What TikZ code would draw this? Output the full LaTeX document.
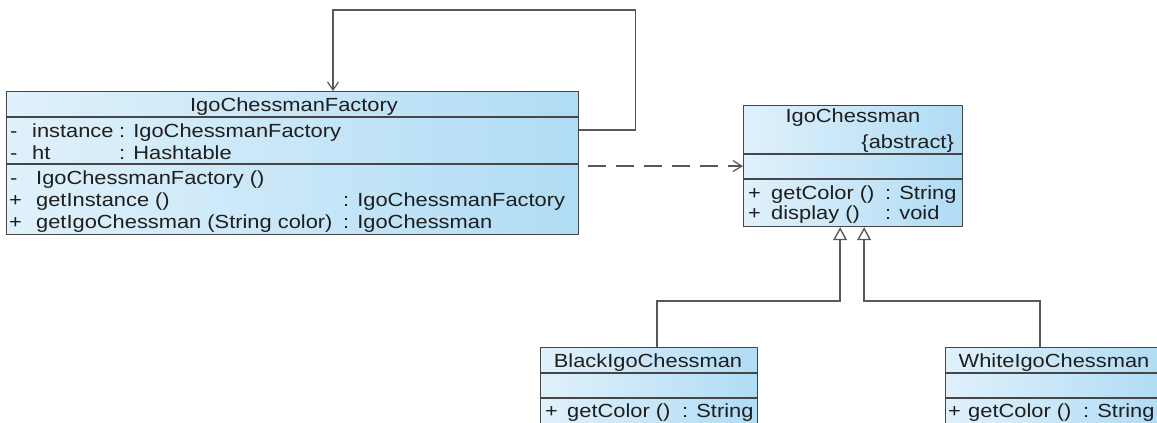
\documentclass[tikz,border=0pt]{standalone}
\usepackage{fontspec}
\setmainfont{Liberation Sans}[FakeStretch=1.15]
\usepackage{tikz}
\usetikzlibrary{calc,positioning,arrows.meta,shapes}

\definecolor{boxlite}{RGB}{224,241,251}
\definecolor{boxblue}{RGB}{176,220,245}
\definecolor{edge}{RGB}{70,70,70}
\definecolor{txt}{RGB}{30,30,30}

\begin{document}
\begin{tikzpicture}[x=1pt,y=-1pt,
    cls/.style={draw=edge,line width=1.2pt,rectangle,inner sep=0pt,anchor=north west,left color=boxlite,right color=boxblue},
    sep/.style={draw=edge,line width=1.2pt},
    txt/.style={inner sep=0pt,anchor=base west,text=txt,font=\fontsize{19}{22}\selectfont},
    ttl/.style={txt,anchor=base},
    link/.style={draw=edge!90,line width=1.4pt},
    dep/.style={link,dash pattern=on 18pt off 10pt,-{Straight Barb[length=9pt,width=11pt,line width=1.2pt]}},
    gen/.style={link,-{Triangle[open,length=13pt,width=14pt,fill=white]}}]
  \clip (0,0) rectangle (1157,423);

  % class boxes
  \node[cls,minimum width=572pt,minimum height=143pt] (fac) at (6,91) {};
  \node[cls,minimum width=219pt,minimum height=121pt] (chess) at (743,105) {};
  \node[cls,minimum width=217pt,minimum height=90pt] (black) at (540,347) {};
  \node[cls,minimum width=217pt,minimum height=90pt] (white) at (945,347) {};

  % compartments
  \draw[sep] ([yshift=-26pt]fac.north west) -- ([yshift=-26pt]fac.north east);
  \draw[sep] ([yshift=-73pt]fac.north west) -- ([yshift=-73pt]fac.north east);
  \draw[sep] ([yshift=-49pt]chess.north west) -- ([yshift=-49pt]chess.north east);
  \draw[sep] ([yshift=-74pt]chess.north west) -- ([yshift=-74pt]chess.north east);
  \draw[sep] ([yshift=-26pt]black.north west) -- ([yshift=-26pt]black.north east);
  \draw[sep] ([yshift=-51pt]black.north west) -- ([yshift=-51pt]black.north east);
  \draw[sep] ([yshift=-26pt]white.north west) -- ([yshift=-26pt]white.north east);
  \draw[sep] ([yshift=-51pt]white.north west) -- ([yshift=-51pt]white.north east);

  % IgoChessmanFactory
  \node[ttl] (facname) at (294,111) {IgoChessmanFactory};
  \node[txt] (fa1s) at (10,137) {-};
  \node[txt] (fa1) at (32,137) {instance};
  \node[txt] (fa1t) at (119,137) {: IgoChessmanFactory};
  \node[txt] (fa2s) at (10,159) {-};
  \node[txt] (fa2) at (32,159) {ht};
  \node[txt] (fa2t) at (119,159) {: Hashtable};
  \node[txt] (fm1s) at (10,184) {-};
  \node[txt] (fm1) at (36,184) {IgoChessmanFactory ()};
  \node[txt] (fm2s) at (9,206) {+};
  \node[txt] (fm2) at (36,206) {getInstance ()};
  \node[txt] (fm2t) at (343,206) {: IgoChessmanFactory};
  \node[txt] (fm3s) at (9,228) {+};
  \node[txt] (fm3) at (36,228) {getIgoChessman (String color)};
  \node[txt] (fm3t) at (343,228) {: IgoChessman};

  % IgoChessman
  \node[ttl] (chessname) at (853,122) {IgoChessman};
  \node[txt,anchor=base east] (chessabs) at (954,148) {\{abstract\}};
  \node[txt] (cm1s) at (748,199) {+};
  \node[txt] (cm1) at (771,199) {getColor ()};
  \node[txt] (cm1t) at (885,199) {: String};
  \node[txt] (cm2s) at (748,219) {+};
  \node[txt] (cm2) at (771,219) {display ()};
  \node[txt] (cm2t) at (885,219) {: void};

  % BlackIgoChessman
  \node[ttl] (blackname) at (648,367) {BlackIgoChessman};
  \node[txt] (bm1s) at (545,417) {+};
  \node[txt] (bm1) at (567,417) {getColor ()};
  \node[txt] (bm1t) at (682,417) {: String};

  % WhiteIgoChessman
  \node[ttl] (whitename) at (1054,367) {WhiteIgoChessman};
  \node[txt] (wm1s) at (948,417) {+};
  \node[txt] (wm1) at (968,417) {getColor ()};
  \node[txt] (wm1t) at (1083,417) {: String};

  % self association
  \coordinate (loop) at (333,10);
  \draw[link,-{Straight Barb[length=8pt,width=11pt,line width=1.2pt]}] ([yshift=-39pt]fac.north east) -- ++(56,0) |- (loop) -- (loop |- fac.north);

  % dependency
  \coordinate (d0) at ([xshift=9pt]fac.east);
  \draw[dep] (d0 |- chess.west) -- (chess.west);

  % generalisation
  \coordinate (gl) at ([xshift=-13pt]chess.south);
  \coordinate (gr) at ([xshift=11pt]chess.south);
  \draw[gen] ([xshift=8pt]black.north) -- ++(0,-46) -| (gl);
  \draw[gen] ([xshift=-14pt]white.north) -- ++(0,-46) -| (gr);
\end{tikzpicture}
\end{document}
